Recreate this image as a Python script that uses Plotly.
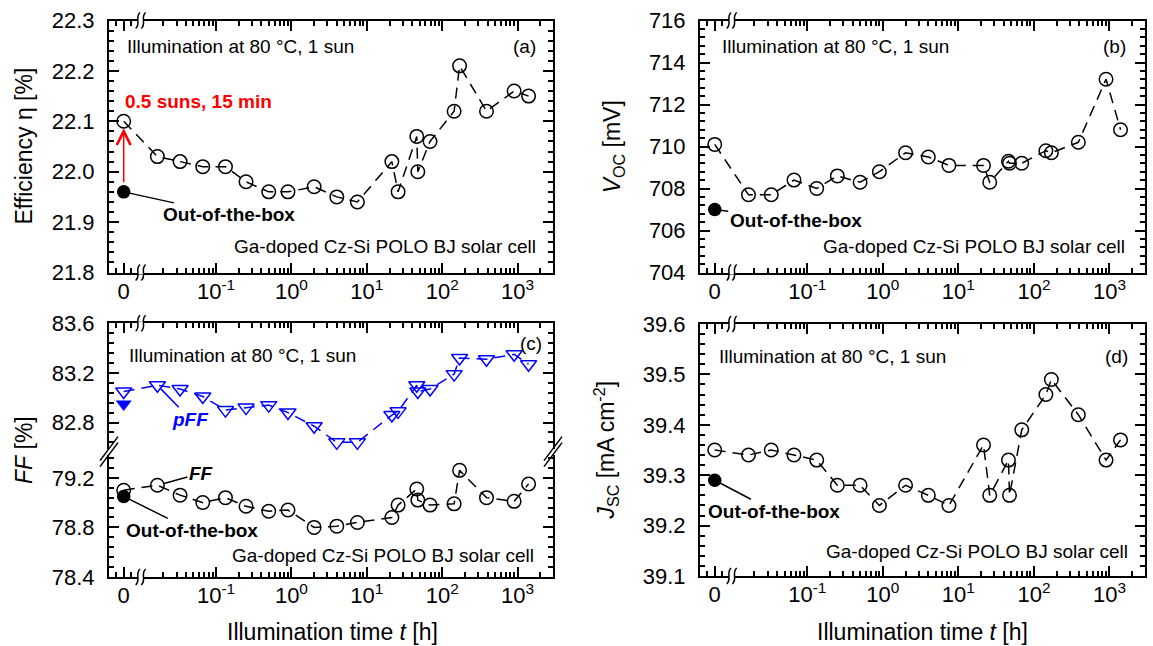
import numpy as np
import plotly.graph_objects as go

W, H = 1153, 646
FONT = "Liberation Sans, Arial, sans-serif"

# ---------------- data ----------------
t_h = [0, 1/60, 2/60, 4/60, 8/60, 0.25, 0.5, 0.9, 2, 4, 7.5, 21.5, 26, 46, 47.5, 69, 144, 170, 387, 900, 1400]
eta = [22.10, 22.03, 22.02, 22.01, 22.01, 21.98, 21.96, 21.96, 21.97, 21.95, 21.94,
       22.02, 21.96, 22.07, 22.00, 22.06, 22.12, 22.21, 22.12, 22.16, 22.15]
voc = [710.1, 707.7, 707.7, 708.4, 708.0, 708.6, 708.3, 708.8, 709.7, 709.5, 709.1,
       709.1, 708.3, 709.3, 709.2, 709.2, 709.8, 709.7, 710.2, 713.2, 710.8]
ff = [79.10, 79.14, 79.06, 79.00, 79.04, 78.97, 78.93, 78.94, 78.80, 78.81, 78.84,
      78.88, 78.98, 79.11, 79.02, 78.98, 78.99, 79.26, 79.04, 79.01, 79.15]
pff = [83.05, 83.10, 83.07, 83.01, 82.90, 82.92, 82.94, 82.88, 82.77, 82.64, 82.64,
       82.86, 82.89, 83.10, 83.05, 83.07, 83.19, 83.32, 83.31, 83.35, 83.27]
jsc = [39.35, 39.34, 39.35, 39.34, 39.33, 39.28, 39.28, 39.24, 39.28, 39.26, 39.24,
       39.36, 39.26, 39.33, 39.26, 39.39, 39.46, 39.49, 39.42, 39.33, 39.37]
oob_eta = 21.96
oob_voc = 707.0
oob_ff = 79.05
oob_pff = 82.95
oob_jsc = 39.29

x_tick_text = ["0", "10<sup>-1</sup>", "10<sup>0</sup>", "10<sup>1</sup>", "10<sup>2</sup>", "10<sup>3</sup>"]
x_tick_hours = [0, 0.1, 1, 10, 100, 1000]
y_ticks_eta = [21.8, 21.9, 22.0, 22.1, 22.2, 22.3]
y_ticks_voc = [704, 706, 708, 710, 712, 714, 716]
y_ticks_ff_low = [78.4, 78.8, 79.2]
y_ticks_ff_up = [82.8, 83.2, 83.6]
y_ticks_jsc = [39.1, 39.2, 39.3, 39.4, 39.5, 39.6]

# ---------------- broken time axis: t = 0 drawn left of the break ----------------
ZERO_LOG = -2.225
BREAK_LOG = -2.0
X_RANGE = [-2.42, 3.47]
ZERO_POS = 10 ** ZERO_LOG


def xpos(t):
    return ZERO_POS if t == 0 else t


x_all = [xpos(t) for t in t_h]
x_major = [xpos(t) for t in x_tick_hours]
x_minor = [m * 10 ** k for k in range(-2, 4) for m in range(2, 10) if np.log10(m * 10 ** k) < X_RANGE[1]]
x_minor += [ZERO_POS * 10 ** -0.1, ZERO_POS * 10 ** 0.1]

# panel boxes in pixels: left, right, top, bottom
BOX = {
    "a": (109, 553, 20.5, 272.5),
    "b": (700, 1145, 20.5, 272.5),
    "c": (109, 553, 323.3, 577),
    "d": (700, 1145, 324, 576),
}
C_BREAK_Y = 451.6
C_GAP = 3.0


def PX(x):
    return x / W


def PY(y):
    return 1 - y / H


def dom_x(p):
    l, r, t, b = BOX[p]
    return [PX(l), PX(r)]


def dom_y(top, bottom):
    return [PY(bottom), PY(top)]


def log_to_px(p, lv):
    l, r, t, b = BOX[p]
    return l + (lv - X_RANGE[0]) / (X_RANGE[1] - X_RANGE[0]) * (r - l)


tickfont = dict(size=22, color="black", family=FONT)

xbase = dict(type="log", range=X_RANGE, tickmode="array", tickvals=x_major, ticktext=x_tick_text,
             ticks="inside", ticklen=10, tickwidth=2, tickcolor="black", automargin=False,
             showline=True, linewidth=2, linecolor="black", showgrid=False, zeroline=False,
             tickfont=tickfont, ticklabelstandoff=-2,
             minor=dict(tickmode="array", tickvals=x_minor, ticks="inside", ticklen=5,
                        tickwidth=1.5, tickcolor="black", showgrid=False))


def ybase(tickvals, fmt, mdt, m0):
    return dict(tickmode="array", tickvals=tickvals, tickformat=fmt, automargin=False,
                ticks="inside", ticklen=10, tickwidth=2, tickcolor="black",
                showline=True, linewidth=2, linecolor="black", mirror="ticks",
                showgrid=False, zeroline=False, tickfont=tickfont, ticklabelstandoff=8,
                minor=dict(tickmode="linear", dtick=mdt, tick0=m0, ticks="inside", ticklen=5,
                           tickwidth=1.5, tickcolor="black", showgrid=False))


fig = go.Figure()

DASH = "11px,7px"


def add_series(xa, ya, yvals, oob, color="black", symbol="circle"):
    size = 13.5 if symbol == "circle" else 14
    fig.add_trace(go.Scatter(x=x_all, y=yvals, xaxis=xa, yaxis=ya, mode="lines+markers",
                             line=dict(color=color, width=1.5, dash=DASH),
                             marker=dict(symbol=symbol + "-open", size=size,
                                         color=color, line=dict(width=1.5, color=color)),
                             showlegend=False, cliponaxis=False))
    fig.add_trace(go.Scatter(x=[ZERO_POS], y=[oob], xaxis=xa, yaxis=ya, mode="markers",
                             marker=dict(symbol=symbol, size=size, color=color, line=dict(width=0)),
                             showlegend=False, cliponaxis=False))


add_series("x", "y", eta, oob_eta)
add_series("x2", "y2", voc, oob_voc)
add_series("x4", "y4", pff, oob_pff, color="blue", symbol="triangle-down")
add_series("x3", "y3", ff, oob_ff)
add_series("x5", "y5", jsc, oob_jsc)

# ---------------- axes ----------------
la, ra, ta, ba = BOX["a"]
lc, rc, tc, bc = BOX["c"]
scale_c = 124.0  # px per %
up_bottom = C_BREAK_Y - C_GAP
lo_top = C_BREAK_Y + C_GAP

layout_axes = dict(
    xaxis=dict(xbase, domain=dom_x("a"), anchor="y", mirror="ticks"),
    yaxis=dict(ybase(y_ticks_eta, ".1f", 0.02, 21.8), domain=dom_y(ta, ba), anchor="x", range=[21.8, 22.3]),
    xaxis2=dict(xbase, domain=dom_x("b"), anchor="y2", mirror="ticks"),
    yaxis2=dict(ybase(y_ticks_voc, "d", 0.4, 704), domain=dom_y(BOX["b"][2], BOX["b"][3]), anchor="x2",
                range=[704, 716]),
    xaxis3=dict(xbase, domain=dom_x("c"), anchor="y3"),
    yaxis3=dict(ybase(y_ticks_ff_low, ".1f", 0.08, 78.4), domain=dom_y(lo_top, bc), anchor="x3",
                range=[78.4, 78.4 + (bc - lo_top) / scale_c]),
    xaxis4=dict(xbase, domain=dom_x("c"), anchor="y4", side="top", showticklabels=False),
    yaxis4=dict(ybase(y_ticks_ff_up, ".1f", 0.08, 82.8), domain=dom_y(tc, up_bottom), anchor="x4",
                range=[83.6 - (up_bottom - tc) / scale_c, 83.6]),
    xaxis5=dict(xbase, domain=dom_x("d"), anchor="y5", mirror="ticks"),
    yaxis5=dict(ybase(y_ticks_jsc, ".1f", 0.02, 39.1), domain=dom_y(BOX["d"][2], BOX["d"][3]), anchor="x5",
                range=[39.1, 39.6]),
)

# ---------------- annotations ----------------
ann = []


def fmt(s, bold=False, italic=False):
    if italic:
        s = "<i>" + s + "</i>"
    if bold:
        s = "<b>" + s + "</b>"
    return s


def text(xp, yp, s, size=19, xanchor="left", color="black", bold=False, italic=False, angle=0):
    ann.append(dict(x=PX(xp), y=PY(yp), xref="paper", yref="paper", text=fmt(s, bold, italic),
                    showarrow=False, xanchor=xanchor, yanchor="middle", textangle=angle,
                    font=dict(size=size, color=color, family=FONT)))


def callout(xa, ya, xv, yv, dx, dy, s, color="black", italic=False, standoff=0):
    """Bold label placed dx, dy pixels from a data point, with a leader line to it."""
    ann.append(dict(x=np.log10(xv), y=yv, xref=xa, yref=ya, ax=dx, ay=dy, text=fmt(s, True, italic),
                    showarrow=True, arrowhead=0, arrowwidth=1.5, arrowcolor=color, standoff=standoff,
                    font=dict(size=19, color=color, family=FONT)))


illum = "Illumination at 80 °C, 1 sun"
cell = "Ga-doped Cz-Si POLO BJ solar cell"
text(125, 46.5, illum)
text(720, 47, illum)
text(127, 355, illum)
text(717, 356.5, illum)
text(538, 46, "(a)", xanchor="right")
text(1128, 47, "(b)", xanchor="right")
text(544, 343, "(c)", xanchor="right")
text(1130, 356, "(d)", xanchor="right")
text(538, 247, cell, xanchor="right")
text(1127, 247, cell, xanchor="right")
text(536, 555.7, cell, xanchor="right")
text(1130, 551.7, cell, xanchor="right")
text(122.6, 101, "0.5 suns, 15 min", bold=True, color="red")

oob = "Out-of-the-box"
callout("x", "y", ZERO_POS, oob_eta, 105, 23, oob)
callout("x2", "y2", ZERO_POS, oob_voc, 81, 11, oob)
callout("x3", "y3", ZERO_POS, oob_ff, 68, 34, oob)
callout("x5", "y5", ZERO_POS, oob_jsc, 59, 31, oob)
callout("x3", "y3", x_all[1], ff[1], 44, -12, "FF", italic=True, standoff=6)
callout("x4", "y4", x_all[1], pff[1], 33, 34, "pFF", color="blue", italic=True, standoff=5)

# red arrow: out-of-the-box -> after 0.5 suns, 15 min
ann.append(dict(x=ZERO_LOG, y=eta[0], xref="x", yref="y", ax=ZERO_LOG, ay=oob_eta, axref="x", ayref="y",
                text="", showarrow=True, arrowhead=5, arrowsize=1.8, arrowwidth=1.5, arrowcolor="red",
                standoff=7, startstandoff=8, font=dict(size=1)))

# axis titles
TS = 23
text(24, 146.5, "Efficiency η [%]", size=TS, xanchor="center", angle=-90)
text(613.8, 146.5, "<i>V</i><sub>OC</sub> [mV]", size=TS, xanchor="center", angle=-90)
text(24, 450, "<i>FF</i> [%]", size=TS, xanchor="center", angle=-90)
text(605.6, 450, "<i>J</i><sub>SC</sub> [mA cm<sup>-2</sup>]", size=TS, xanchor="center", angle=-90)
text((lc + rc) / 2 + 1, 631.7, "Illumination time <i>t</i> [h]", size=TS, xanchor="center")
text((BOX["d"][0] + BOX["d"][1]) / 2, 631.7, "Illumination time <i>t</i> [h]", size=TS, xanchor="center")

# ---------------- break marks ----------------
shapes = []


def pp(x, y):
    return f"{PX(x):.6f},{PY(y):.6f}"


def x_break(p):
    l, r, t, b = BOX[p]
    xb = log_to_px(p, BREAK_LOG)
    for yc in (t, b):
        shapes.append(dict(type="rect", xref="paper", yref="paper", x0=PX(xb - 2.5), x1=PX(xb + 2.5),
                           y0=PY(yc + 2), y1=PY(yc - 2), fillcolor="white", line=dict(width=0)))
        for xc in (xb - 2.8, xb + 2.8):
            path = (f"M{pp(xc + 2.2, yc - 8)} C{pp(xc - 3.5, yc - 3)} "
                    f"{pp(xc + 3.5, yc + 3)} {pp(xc - 2.2, yc + 8)}")
            shapes.append(dict(type="path", xref="paper", yref="paper", path=path,
                               line=dict(color="black", width=1.5)))


for p in "abcd":
    x_break(p)

for xe in (lc, rc):
    for yb in (up_bottom, lo_top):
        shapes.append(dict(type="line", xref="paper", yref="paper",
                           x0=PX(xe - 9), y0=PY(yb + 12), x1=PX(xe + 9), y1=PY(yb - 12),
                           line=dict(color="black", width=1.5)))

fig.update_layout(
    width=W, height=H, autosize=False,
    margin=dict(l=0, r=0, t=0, b=0, pad=0),
    paper_bgcolor="white", plot_bgcolor="white",
    font=dict(family=FONT, color="black"),
    showlegend=False,
    annotations=ann, shapes=shapes,
    **layout_axes,
)

fig.write_html("out.html")
